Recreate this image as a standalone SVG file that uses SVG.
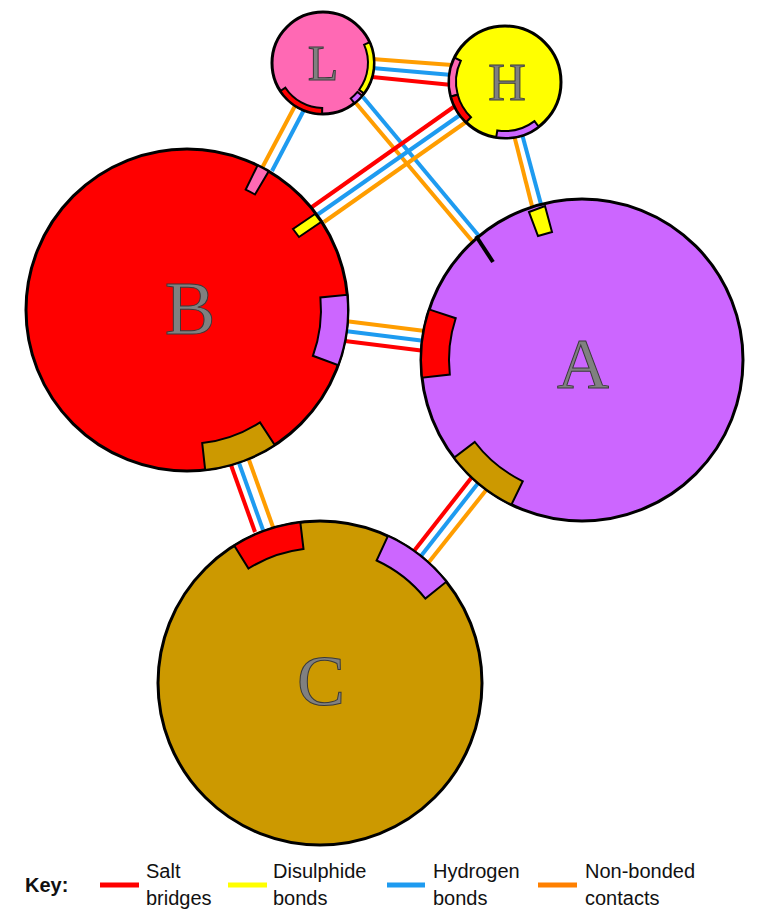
<svg xmlns="http://www.w3.org/2000/svg" width="764" height="918" viewBox="0 0 764 918">
<style>
.c{stroke:#000;stroke-width:3}
.s{stroke:#000;stroke-width:2}
.ln{stroke-width:4;fill:none}
.r{stroke:#ff0000}.b{stroke:#1e9bf0}.o{stroke:#ff9d00}.y{stroke:#ffff00}
.lab{font-family:"Liberation Serif",serif;fill:#808080;stroke:#3a3a3a;stroke-width:1;text-anchor:middle}
.key{font-family:"Liberation Sans",Arial,sans-serif;font-size:20px;fill:#111}
</style>
<rect width="764" height="918" fill="#fff"/>
<g id="connectors">
<line class="ln o" x1="372" y1="59" x2="452" y2="65"/>
<line class="ln b" x1="372" y1="68" x2="452" y2="75"/>
<line class="ln r" x1="372" y1="77" x2="452" y2="85"/>
<line class="ln o" x1="296" y1="104" x2="262" y2="168"/>
<line class="ln b" x1="305" y1="108" x2="272" y2="171"/>
<line class="ln o" x1="355" y1="102" x2="473" y2="242"/>
<line class="ln b" x1="363" y1="97" x2="479" y2="236"/>
<line class="ln r" x1="455" y1="106" x2="312" y2="207"/>
<line class="ln b" x1="460" y1="115" x2="317" y2="215"/>
<line class="ln o" x1="466" y1="122" x2="324" y2="222"/>
<line class="ln o" x1="514" y1="135" x2="533" y2="210"/>
<line class="ln b" x1="522" y1="134" x2="542" y2="208"/>
<line class="ln o" x1="345" y1="321" x2="425" y2="331"/>
<line class="ln b" x1="345" y1="331" x2="425" y2="341"/>
<line class="ln r" x1="345" y1="341" x2="425" y2="351"/>
<line class="ln r" x1="231" y1="465" x2="255" y2="532"/>
<line class="ln b" x1="239" y1="463" x2="263" y2="530"/>
<line class="ln o" x1="249" y1="460" x2="273" y2="527"/>
<line class="ln r" x1="472" y1="477" x2="414" y2="551"/>
<line class="ln b" x1="479" y1="482" x2="421" y2="556"/>
<line class="ln o" x1="487" y1="489" x2="429" y2="562"/>
</g>
<g id="L">
<circle class="c" cx="323" cy="63" r="51" fill="#ff69b4"/>
<path class="s" fill="#ffff00" d="M369.6,42.3 A51,51 0 0 1 363.9,93.4 L359.1,89.8 A45,45 0 0 0 364.1,44.7 Z"/>
<path class="s" fill="#ff0000" d="M322.1,114 A51,51 0 0 1 280.4,91 L285.4,87.7 A45,45 0 0 0 322.2,108 Z"/>
<path class="s" fill="#cc66ff" d="M362.1,95.8 A51,51 0 0 1 354.4,103.2 L350.7,98.5 A45,45 0 0 0 357.5,91.9 Z"/>
<text class="lab" x="323" y="80" font-size="50">L</text>
</g>
<g id="H">
<circle class="c" cx="505" cy="82" r="56" fill="#ffff00"/>
<path class="s" fill="#ff69b4" d="M450.9,96.5 A56,56 0 0 1 454.5,57.7 L460.8,60.8 A49,49 0 0 0 457.7,94.7 Z"/>
<path class="s" fill="#ff0000" d="M466.1,122.3 A56,56 0 0 1 450.9,96.5 L457.7,94.7 A49,49 0 0 0 471,117.2 Z"/>
<path class="s" fill="#cc66ff" d="M538.7,126.7 A56,56 0 0 1 496.2,137.3 L497.3,130.4 A49,49 0 0 0 534.5,121.1 Z"/>
<text class="lab" x="507" y="100" font-size="52">H</text>
</g>
<g id="B">
<circle class="c" cx="187" cy="310" r="161" fill="#ff0000"/>
<path class="s" fill="#ff69b4" d="M257.6,165.3 A161,161 0 0 1 268.7,171.3 L255,194.5 A134,134 0 0 0 245.7,189.6 Z"/>
<polygon class="s" fill="#ffff00" points="293,229 299,237 321,222 315,214"/>
<path class="s" fill="#cc66ff" d="M347.3,294.8 A161,161 0 0 1 338.3,365.1 L312.9,355.8 A134,134 0 0 0 320.4,297.4 Z"/>
<path class="s" fill="#cc9900" d="M274.7,445 A161,161 0 0 1 205.2,470 L202.2,443.1 A134,134 0 0 0 260,422.4 Z"/>
<text class="lab" x="190" y="334" font-size="76">B</text>
</g>
<g id="A">
<circle class="c" cx="582" cy="360" r="161" fill="#cc66ff"/>
<path class="s" fill="#ff0000" d="M422,377.7 A161,161 0 0 1 429.1,309.4 L455.7,318.2 A133,133 0 0 0 449.8,374.6 Z"/>
<path class="s" fill="#cc9900" d="M511.4,504.7 A161,161 0 0 1 454.1,457.8 L474.8,442 A135,135 0 0 0 522.8,481.3 Z"/>
<polygon class="s" fill="#ffff00" points="529,212 545,206 552,232 538,236"/>
<line x1="476" y1="236" x2="493" y2="262" stroke="#000" stroke-width="4"/>
<text class="lab" x="583" y="388" font-size="72">A</text>
</g>
<g id="C">
<circle class="c" cx="320" cy="683" r="162" fill="#cc9900"/>
<path class="s" fill="#ff0000" d="M234.2,545.6 A162,162 0 0 1 300.3,522.2 L303.5,549 A135,135 0 0 0 248.5,568.5 Z"/>
<path class="s" fill="#cc66ff" d="M388,535.9 A162,162 0 0 1 446.4,581.7 L425.4,598.6 A135,135 0 0 0 376.6,560.5 Z"/>
<text class="lab" x="321" y="705" font-size="72">C</text>
</g>
<g id="key">
<text class="key" x="25" y="892" font-weight="bold">Key:</text>
<line x1="100" y1="885" x2="139" y2="885" stroke="#ff0000" stroke-width="5"/>
<text class="key" x="146" y="878">Salt</text><text class="key" x="146" y="905">bridges</text>
<line x1="228" y1="885" x2="267" y2="885" stroke="#ffff00" stroke-width="5"/>
<text class="key" x="273" y="878">Disulphide</text><text class="key" x="273" y="905">bonds</text>
<line x1="387" y1="885" x2="425" y2="885" stroke="#1e9bf0" stroke-width="5"/>
<text class="key" x="433" y="878">Hydrogen</text><text class="key" x="433" y="905">bonds</text>
<line x1="538" y1="885" x2="577" y2="885" stroke="#ff8000" stroke-width="5"/>
<text class="key" x="585" y="878">Non-bonded</text><text class="key" x="585" y="905">contacts</text>
</g>
</svg>
